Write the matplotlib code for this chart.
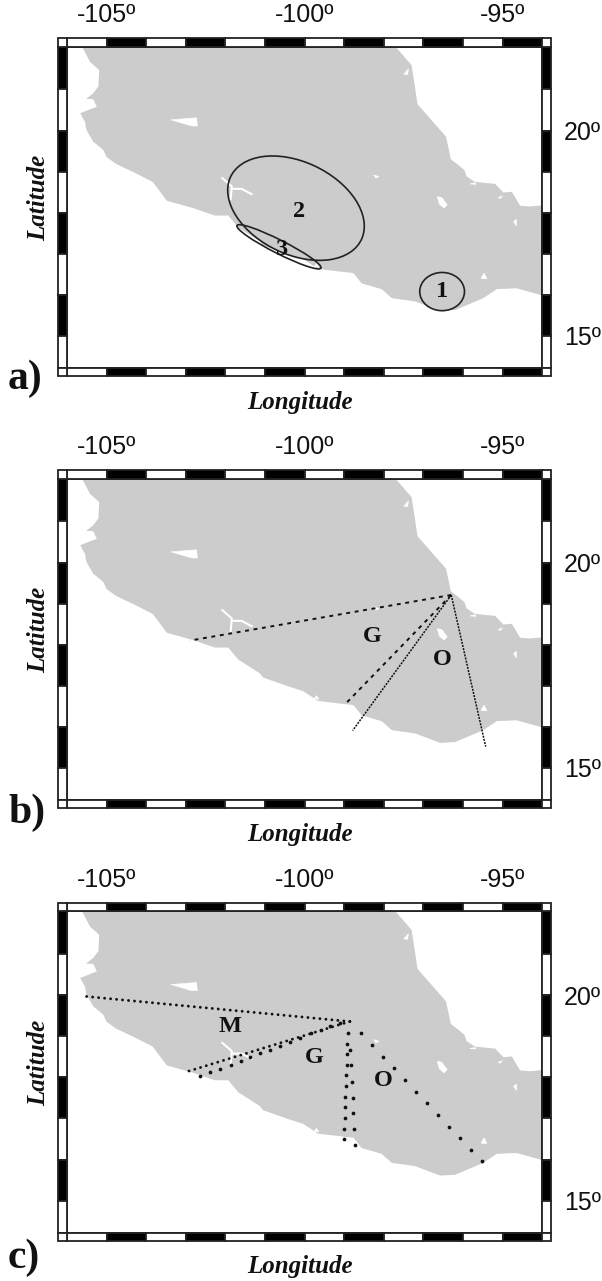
import matplotlib
matplotlib.use('Agg')
import matplotlib.pyplot as plt
from matplotlib.patches import Ellipse, Polygon, Rectangle

W = 602
H = 1281

# --- map outline (lon, lat) ---
land_lon = [-105.64, -105.61, -105.42, -105.19, -105.21, -105.34, -105.52, -105.34, -105.25, -105.67,
            -105.55, -105.51, -105.34, -105.09, -105.00, -104.75, -104.31, -103.84, -103.48, -102.81,
            -102.27, -101.93, -101.68, -101.13, -101.05, -100.37, -100.04, -99.66, -98.77, -98.56,
            -98.06, -97.80, -97.21, -96.58, -96.20, -95.49, -95.15, -94.65, -93.90, -93.90,
            -94.31, -94.56, -94.77, -94.98, -95.19, -95.70, -95.91, -95.97, -96.12, -96.31,
            -96.43, -97.15, -97.30, -97.69, -97.65]
land_lat = [22.10, 22.02, 21.67, 21.47, 21.07, 20.91, 20.77, 20.76, 20.58, 20.42,
            20.21, 20.01, 19.73, 19.53, 19.35, 19.18, 18.98, 18.75, 18.29, 18.11,
            17.93, 17.93, 17.64, 17.30, 17.20, 16.97, 16.87, 16.63, 16.53, 16.28,
            16.14, 15.92, 15.84, 15.61, 15.63, 15.92, 16.14, 16.16, 15.96, 18.19,
            18.15, 18.17, 18.51, 18.49, 18.70, 18.75, 18.88, 19.04, 19.16, 19.30,
            19.85, 20.64, 21.59, 22.02, 22.10]

# lakes and small holes
lakes = [
    ([-103.38, -102.73, -102.71, -102.85], [20.26, 20.31, 20.11, 20.11]),
    ([-97.50, -97.38, -97.40], [21.37, 21.50, 21.36]),
    ([-98.26, -98.12, -98.20], [18.92, 18.88, 18.84]),
    ([-96.65, -96.54, -96.40, -96.48, -96.60], [18.39, 18.37, 18.19, 18.11, 18.21]),
    ([-95.11, -95.00, -95.07], [18.37, 18.41, 18.34]),
    ([-94.73, -94.65, -94.65], [17.78, 17.84, 17.68]),
    ([-95.83, -95.70, -95.67], [18.70, 18.73, 18.69]),
    ([-95.55, -95.47, -95.40], [16.40, 16.53, 16.39]),
    ([-99.76, -99.70, -99.64], [16.69, 16.76, 16.67]),
]
river_a_lon = [-102.08, -101.84, -101.87]
river_a_lat = [18.84, 18.64, 18.33]
river_b_lon = [-101.84, -101.59, -101.34]
river_b_lat = [18.58, 18.58, 18.45]

# panel a: ellipses (label, lon, lat, width, height, angle)
zone_labels = ['1', '2', '3']
zone_lon = [-96.53, -100.22, -100.65]
zone_lat = [16.08, 18.11, 17.17]
zone_width = [1.13, 3.64, 2.36]
zone_height = [0.93, 2.26, 0.33]
zone_angle = [0, -24, -26]
zone_text_lon = [-96.53, -100.13, -100.58]
zone_text_lat = [16.08, 18.02, 17.11]

# panel b: profiles from the peak
peak_b = (-96.30, 19.21)
end_b_lon = [-102.90, -98.94, -98.79, -95.43]
end_b_lat = [18.10, 16.59, 15.91, 15.52]

# panel c: profiles and sampled dots
peak_c = (-98.86, 19.36)
end_c_lon = [-105.63, -103.04]
end_c_lat = [19.98, 18.12]
dots_m_lon = [-102.64, -102.38, -102.13, -101.87, -101.62, -101.37, -101.12, -100.87, -100.62, -100.37,
              -100.12, -99.85, -99.60, -99.35, -99.11]
dots_m_lat = [18.03, 18.12, 18.20, 18.30, 18.40, 18.49, 18.59, 18.67, 18.77, 18.87,
              18.97, 19.07, 19.16, 19.26, 19.33]
dots_g_lon = [-98.90, -98.92, -98.93, -98.94, -98.95, -98.96, -98.97, -98.98, -98.99, -99.00, -99.02]
dots_g_lat = [19.07, 18.82, 18.57, 18.31, 18.05, 17.79, 17.53, 17.27, 17.01, 16.75, 16.49]
dots_o_lon = [-98.86, -98.84, -98.81, -98.79, -98.77, -98.76, -98.73]
dots_o_lat = [18.67, 18.29, 17.90, 17.51, 17.13, 16.74, 16.35]
dots_e_lon = [-98.58, -98.30, -98.02, -97.75, -97.47, -97.19, -96.91, -96.63, -96.36, -96.08, -95.80, -95.52]
dots_e_lat = [19.07, 18.79, 18.50, 18.22, 17.94, 17.65, 17.37, 17.08, 16.80, 16.52, 16.23, 15.96]

lon_ticks = [-105, -100, -95]
lon_tick_labels = ['-105º', '-100º', '-95º']
lat_ticks = [20, 15]
lat_tick_labels = ['20º', '15º']
lon_edges = [-106, -105, -104, -103, -102, -101, -100, -99, -98, -97, -96, -95, -94]
lat_edges = [22.04, 21, 20, 19, 18, 17, 16, 15, 14.22]

SANS = 'Liberation Sans'
SERIF = 'Liberation Serif'
DARK = '#222222'
LAND = '#cccccc'


def draw_band(ax):
    # GMT style fancy frame, drawn in data units just outside the axes
    dx = 9.2 / 39.6
    dy = 8.4 / 41.1
    style = dict(clip_on=False, edgecolor=DARK, linewidth=1.3, zorder=5)
    for i in range(len(lon_edges) - 1):
        color = 'white' if i % 2 == 0 else 'black'
        width = lon_edges[i + 1] - lon_edges[i]
        ax.add_patch(Rectangle((lon_edges[i], lat_edges[0]), width, dy, facecolor=color, **style))
        ax.add_patch(Rectangle((lon_edges[i], lat_edges[-1] - dy), width, dy, facecolor=color, **style))
    for i in range(len(lat_edges) - 1):
        color = 'black' if i % 2 == 0 else 'white'
        height = lat_edges[i] - lat_edges[i + 1]
        ax.add_patch(Rectangle((lon_edges[0] - dx, lat_edges[i + 1]), dx, height, facecolor=color, **style))
        ax.add_patch(Rectangle((lon_edges[-1], lat_edges[i + 1]), dx, height, facecolor=color, **style))
    for x in (lon_edges[0] - dx, lon_edges[-1]):
        for y in (lat_edges[0], lat_edges[-1] - dy):
            ax.add_patch(Rectangle((x, y), dx, dy, facecolor='white', **style))


def draw_map(top):
    ax = fig.add_axes([67.1 / W, 1 - (top + 321.3) / H, 475.2 / W, 321.3 / H])
    ax.set_xlim(lon_edges[0], lon_edges[-1])
    ax.set_ylim(lat_edges[-1], lat_edges[0])
    ax.add_patch(Polygon(list(zip(land_lon, land_lat)), closed=True, facecolor=LAND, edgecolor='none'))
    for lake_lon, lake_lat in lakes:
        ax.add_patch(Polygon(list(zip(lake_lon, lake_lat)), closed=True, facecolor='white', edgecolor='white', linewidth=0.4))
    ax.plot(river_a_lon, river_a_lat, color='white', lw=1.5)
    ax.plot(river_b_lon, river_b_lat, color='white', lw=1.5)

    ax.xaxis.tick_top()
    ax.yaxis.tick_right()
    ax.set_xticks(lon_ticks, lon_tick_labels, family=SANS, fontsize=18)
    ax.set_yticks(lat_ticks, lat_tick_labels, family=SANS, fontsize=18)
    ax.tick_params(axis='x', length=0, pad=14, colors='#111111')
    ax.tick_params(axis='y', length=0, pad=15.5, colors='#111111')
    for spine in ax.spines.values():
        spine.set_color(DARK)
        spine.set_linewidth(1.2)
    draw_band(ax)
    return ax


def fig_text(x, y, s, **kw):
    fig.text(x / W, 1 - y / H, s, family=SERIF, **kw)


def panel_text(ax, lon, lat, s):
    ax.text(lon, lat, s, family=SERIF, fontweight='bold', fontsize=17.5, color='#111111',
            ha='center', va='center', zorder=4)


fig = plt.figure(figsize=(W / 100, H / 100), dpi=100)

# --- a) ---
ax_a = draw_map(46.7)
for i in range(len(zone_labels)):
    ax_a.add_patch(Ellipse((zone_lon[i], zone_lat[i]), zone_width[i], zone_height[i], angle=zone_angle[i],
                           facecolor='none', edgecolor=DARK, linewidth=1.2, zorder=3))
    panel_text(ax_a, zone_text_lon[i], zone_text_lat[i], zone_labels[i])

# --- b) ---
ax_b = draw_map(478.7)
for i in range(2):
    ax_b.plot([peak_b[0], end_b_lon[i]], [peak_b[1], end_b_lat[i]], color='#111111', lw=1.4,
              linestyle=(0, (2.0, 2.4)))
for i in range(2, 4):
    ax_b.plot([peak_b[0], end_b_lon[i]], [peak_b[1], end_b_lat[i]], color='#111111', lw=1.1,
              linestyle=(0, (1.3, 0.8)))
panel_text(ax_b, -98.30, 18.19, 'G')
panel_text(ax_b, -96.52, 17.64, 'O')

# --- c) ---
ax_c = draw_map(911.4)
for i in range(2):
    ax_c.plot([peak_c[0], end_c_lon[i]], [peak_c[1], end_c_lat[i]], color='#111111', lw=2.1,
              linestyle=(0, (0.01, 2.05)), dash_capstyle='round')
for dots_lon, dots_lat in [(dots_m_lon, dots_m_lat), (dots_g_lon, dots_g_lat),
                           (dots_o_lon, dots_o_lat), (dots_e_lon, dots_e_lat)]:
    ax_c.plot(dots_lon, dots_lat, 'o', color='#111111', ms=2.7, mew=0)
panel_text(ax_c, -101.89, 19.25, 'M')
panel_text(ax_c, -99.76, 18.49, 'G')
panel_text(ax_c, -98.01, 17.92, 'O')

# --- axis titles and panel letters, placed in figure pixels ---
label_style = dict(fontweight='bold', fontstyle='italic', fontsize=18, color='#111111', ha='center', va='center')
for lat_y, lon_y in [(198, 402), (630, 835), (1063, 1267)]:
    fig_text(38.5, lat_y, 'Latitude', rotation=90, **label_style)
    fig_text(299.7, lon_y, 'Longitude', **label_style)
for s, y in [('a)', 389), ('b)', 823), ('c)', 1268)]:
    fig_text(8, y, s, fontweight='bold', fontsize=30, color='#111111', ha='left', va='baseline')

fig.savefig('out.png', dpi=100)
